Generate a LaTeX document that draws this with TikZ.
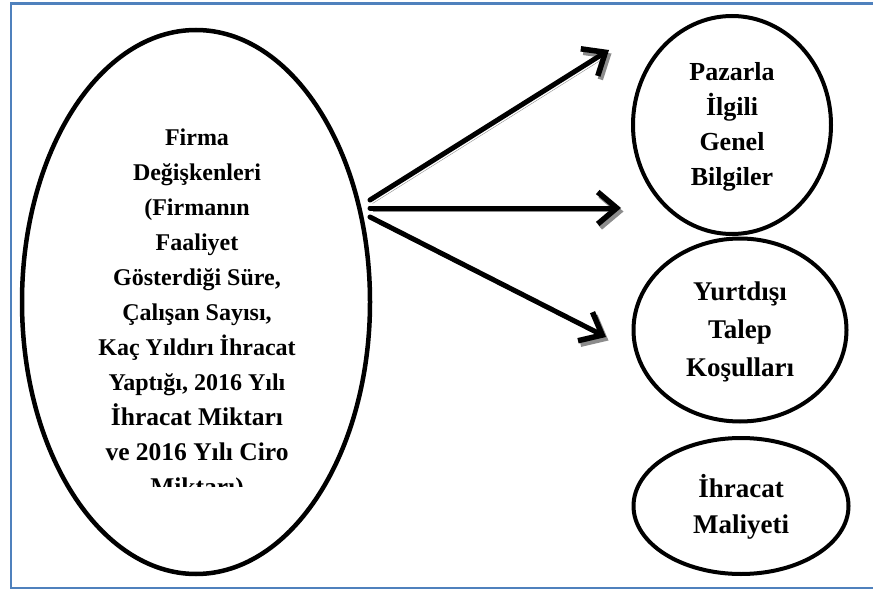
\documentclass[tikz,border=0pt]{standalone}
\usepackage{fontspec}
\setmainfont{Liberation Serif}
\usetikzlibrary{shapes.geometric,arrows.meta}
\definecolor{frameblue}{HTML}{4F81BD}
\tikzset{
  oval/.style={ellipse, draw=black, line width=4.5pt, inner sep=0pt},
  lbl/.style={align=center, font=\bfseries\fontsize{24}{35}\selectfont, inner sep=0pt},
  bigarrow/.style={line width=5pt, line cap=round, line join=round,
    -{Straight Barb[length=19pt,width=32pt,line width=5.5pt]},
    preaction={draw=black!45, transform canvas={shift={(2.5pt,-3.5pt)}}}},
}
\begin{document}
\begin{tikzpicture}[x=1pt,y=-1pt]
\useasboundingbox (0,0) rectangle (873,591);
% frame
\draw[frameblue, line width=2.5pt] (873,3.5) -- (11,3.5) -- (11,588) -- (873,588);
% left ellipse
\node[oval, minimum width=348pt, minimum height=544pt] (firma) at (196,302) {};
\begin{scope}
\clip (40,100) rectangle (360,486);
\node[lbl, anchor=north] (firmatext) at (197,129) {Firma\\Değişkenleri\\(Firmanın\\Faaliyet\\Gösterdiği Süre,\\Çalışan Sayısı,\\Kaç Yıldırı İhracat\\Yaptığı, 2016 Yılı\\{\fontsize{25.5}{35}\selectfont İhracat Miktarı}\\{\fontsize{25.5}{35}\selectfont ve 2016 Yılı Ciro}\\{\fontsize{25.5}{35}\selectfont Miktarı)}};
\end{scope}
% right ellipses
\node[oval, line width=4pt, minimum width=198pt, minimum height=218pt] (pazar) at (732,125) {};
\node[lbl, font=\bfseries\fontsize{26}{35}\selectfont] (pazartext) at (732,127) {Pazarla\\İlgili\\Genel\\Bilgiler};
\node[oval, line width=4pt, minimum width=213pt, minimum height=183pt] (talep) at (740,330) {};
\node[lbl, font=\bfseries\fontsize{27}{38}\selectfont] (taleptext) at (740,332) {Yurtdışı\\Talep\\Koşulları};
\node[oval, line width=4pt, minimum width=215pt, minimum height=136pt] (maliyet) at (741,506) {};
\node[lbl, font=\bfseries\fontsize{27}{36}\selectfont] (maliyettext) at (741,507) {İhracat\\Maliyeti};
% arrows
\coordinate (s1) at (370,200);
\coordinate (s2) at (370,208);
\coordinate (s3) at (370,217);
\coordinate (e1) at (609,50);
\coordinate (e2) at (621,208);
\coordinate (e3) at (606,337);
\draw[bigarrow] (s1) -- (e1);
\draw[bigarrow] (s2) -- (e2);
\draw[bigarrow] (s3) -- (e3);
\end{tikzpicture}
\end{document}
